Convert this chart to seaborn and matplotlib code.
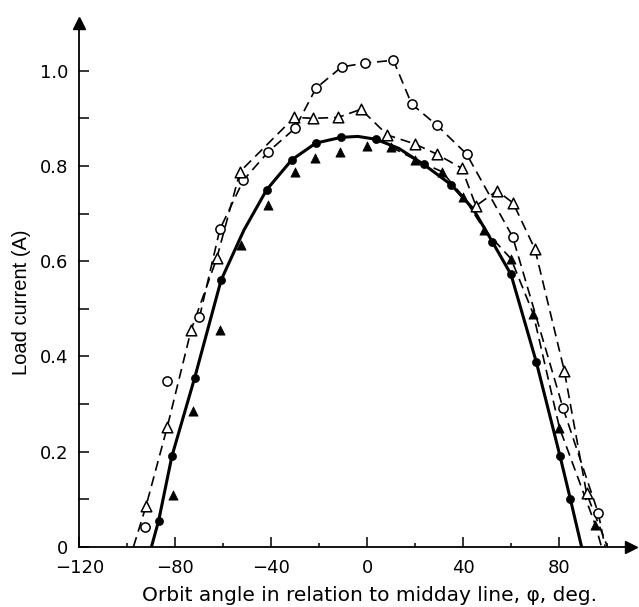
import numpy as np
import matplotlib
matplotlib.use("Agg")
import matplotlib.pyplot as plt
import seaborn as sns

# filled circles (solid curve)
fc_x = [-87, -81.5, -72, -61, -42, -31.5, -21.5, -11, 3.5, 23.5, 35, 52, 59.8, 70.3, 80.2, 84.5]
fc_y = [0.055, 0.19, 0.355, 0.56, 0.75, 0.813, 0.848, 0.86, 0.856, 0.803, 0.76, 0.641, 0.572, 0.389, 0.191, 0.101]

# solid curve
curve_x = [-90, -87, -81.5, -72, -61, -51.5, -42, -31.5, -21.5, -11, -4, 3.5, 13, 23.5, 35, 44, 52, 59.8, 70.3, 80.2, 84.5, 89.2]
curve_y = [0.0, 0.055, 0.19, 0.355, 0.56, 0.665, 0.75, 0.813, 0.848, 0.86, 0.862, 0.856, 0.837, 0.803, 0.76, 0.71, 0.641, 0.572, 0.389, 0.191, 0.101, 0.0]

# filled triangles
ft_x = [-81, -72.5, -61.5, -52.5, -41.5, -30, -22, -11.5, 0, 9.8, 20, 31, 40, 48.7, 59.8, 69.1, 80, 95]
ft_y = [0.108, 0.285, 0.455, 0.634, 0.718, 0.788, 0.816, 0.83, 0.842, 0.84, 0.813, 0.788, 0.735, 0.666, 0.605, 0.489, 0.25, 0.045]
ft_line_x = [9.8, 20, 31, 40, 48.7, 59.8, 69.1, 80, 95, 97.5]
ft_line_y = [0.84, 0.813, 0.788, 0.735, 0.666, 0.605, 0.489, 0.25, 0.045, 0.0]

# open circles
oc_x = [-92.5, -83.7, -70, -61.5, -51.7, -41.3, -30.2, -21.5, -10.75, -1, 10.8, 18.4, 28.8, 41.3, 60.5, 81.5, 96.2]
oc_y = [0.042, 0.348, 0.482, 0.667, 0.770, 0.830, 0.879, 0.963, 1.008, 1.016, 1.022, 0.93, 0.886, 0.825, 0.651, 0.291, 0.07]
oc_line_x = [-70, -61.5, -51.7, -41.3, -30.2, -21.5, -10.75, -1, 10.8, 18.4, 28.8, 41.3, 60.5, 81.5, 96.2, 99]
oc_line_y = [0.482, 0.667, 0.770, 0.830, 0.879, 0.963, 1.008, 1.016, 1.022, 0.93, 0.886, 0.825, 0.651, 0.291, 0.07, 0.0]

# open triangles
ot_x = [-92.3, -83.4, -73.5, -62.8, -53.1, -30.5, -22.6, -12.2, -2.7, 8.3, 19.8, 28.8, 39.3, 45.2, 54, 60.7, 69.8, 82, 91.3]
ot_y = [0.085, 0.252, 0.455, 0.606, 0.788, 0.902, 0.9, 0.902, 0.919, 0.865, 0.846, 0.825, 0.795, 0.716, 0.748, 0.722, 0.625, 0.37, 0.112]
ot_line_x = [-97.5] + ot_x + [100]
ot_line_y = [0.0] + ot_y + [0.0]

xticks = [-120, -80, -40, 0, 40, 80]
xminor = [-100, -60, -20, 20, 60, 100]
yticks = [0, 0.2, 0.4, 0.6, 0.8, 1.0]
ylabels = ["0", "0.2", "0.4", "0.6", "0.8", "1.0"]
yminor = [0.1, 0.3, 0.5, 0.7, 0.9]

sns.set_theme(style="ticks")
plt.rcParams["font.family"] = ["DejaVu Sans"]
plt.rcParams["text.color"] = "black"
plt.rcParams["axes.labelcolor"] = "black"
plt.rcParams["xtick.color"] = "black"
plt.rcParams["ytick.color"] = "black"

fig = plt.figure(figsize=(6.39, 6.07), dpi=100)
ax = fig.add_axes([0.1244, 0.0993, 0.8638, 0.8626])

dash = (0, (6, 3.5))
sns.lineplot(x=curve_x, y=curve_y, ax=ax, color="black", linewidth=2.2, estimator=None, sort=False)
sns.lineplot(x=ft_line_x, y=ft_line_y, ax=ax, color="black", linewidth=1.2, linestyle=dash, estimator=None, sort=False)
sns.lineplot(x=oc_line_x, y=oc_line_y, ax=ax, color="black", linewidth=1.2, linestyle=dash, estimator=None, sort=False)
sns.lineplot(x=ot_line_x, y=ot_line_y, ax=ax, color="black", linewidth=1.2, linestyle=dash, estimator=None, sort=False)

sns.scatterplot(x=fc_x, y=fc_y, ax=ax, marker="o", s=34, color="black", edgecolor="black", zorder=5)
sns.scatterplot(x=ft_x, y=ft_y, ax=ax, marker="^", s=44, color="black", edgecolor="black", zorder=5)
sns.scatterplot(x=oc_x, y=oc_y, ax=ax, marker="o", s=44, color="white", edgecolor="black", linewidth=1.1, zorder=5)
sns.scatterplot(x=ot_x, y=ot_y, ax=ax, marker="^", s=58, color="white", edgecolor="black", linewidth=1.1, zorder=5)

ax.set_xlim(-120, 110)
ax.set_ylim(0, 1.1)
ax.set_xticks(xticks)
ax.set_xticks(xminor, minor=True)
ax.set_yticks(yticks)
ax.set_yticklabels(ylabels)
ax.set_yticks(yminor, minor=True)
ax.tick_params(axis="x", which="major", direction="in", length=7, width=1.1, pad=9, labelsize=13)
ax.tick_params(axis="x", which="minor", direction="in", length=3, width=1.1)
ax.tick_params(axis="y", which="both", direction="in", length=7.5, width=1.1, pad=8, labelsize=13)

sns.despine(ax=ax)
for side in ["left", "bottom"]:
    ax.spines[side].set_linewidth(1.3)
    ax.spines[side].set_color("black")

ax.plot(1, 0, ">", color="black", markersize=9, transform=ax.transAxes, clip_on=False)
ax.plot(0, 1, "^", color="black", markersize=9, transform=ax.transAxes, clip_on=False)

ax.set_xlabel("Orbit angle in relation to midday line, \u03c6, deg.", fontsize=14.5, labelpad=6.5)
ax.set_ylabel("Load current (A)", fontsize=14.5, family=["Liberation Sans"], labelpad=6.5)
ax.xaxis.label.set_x(0.526)
ax.yaxis.label.set_y(0.467)

fig.savefig("out.png", dpi=100)
